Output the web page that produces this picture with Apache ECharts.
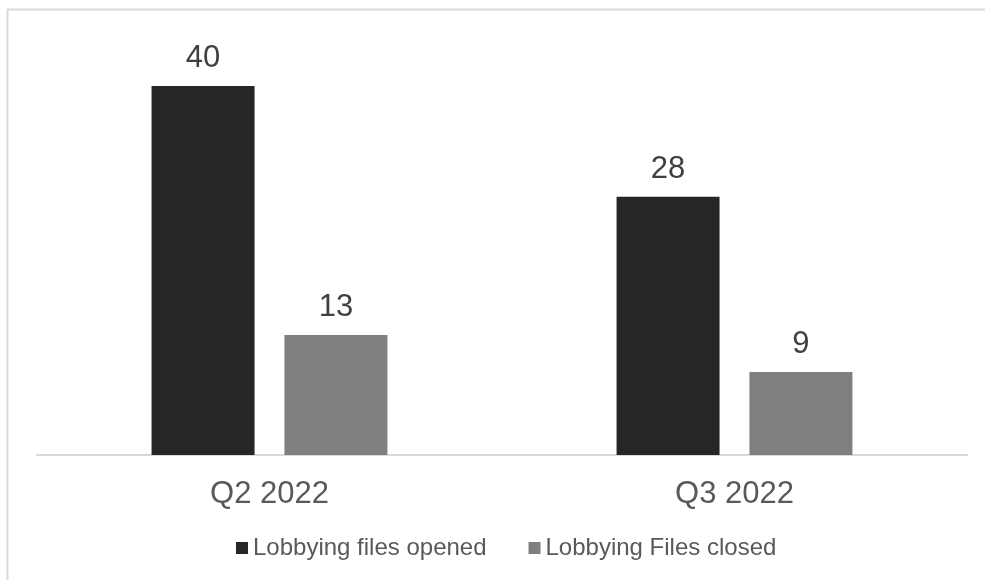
<!DOCTYPE html>
<html>
<head>
<meta charset="utf-8">
<script src="https://cdn.jsdelivr.net/npm/echarts@6/dist/echarts.min.js"></script>
<style>
  html, body { margin: 0; padding: 0; background: #fff; }
  #chart { width: 985px; height: 580px; }
</style>
</head>
<body>
<div id="chart"></div>
<script>
// Quarterly lobbying file counts
const quarters = ['Q2 2022', 'Q3 2022'];
const filesOpened = [40, 28];
const filesClosed = [13, 9];
const seriesNames = ['Lobbying files opened', 'Lobbying Files closed'];

const FONT = '"Liberation Sans", Arial, sans-serif';

const chart = echarts.init(document.getElementById('chart'), null, { renderer: 'canvas' });

const valueLabel = {
  show: true,
  position: 'top',
  distance: 12,
  fontFamily: FONT,
  fontSize: 31,
  color: '#404040'
};

chart.setOption({
  animation: false,
  backgroundColor: '#ffffff',
  textStyle: { fontFamily: FONT },
  graphic: [
    // chart frame: top and left edges
    { type: 'line', shape: { x1: 7, y1: 9.5, x2: 985, y2: 9.5 }, style: { stroke: '#d9d9d9', lineWidth: 2 }, silent: true },
    { type: 'line', shape: { x1: 7.5, y1: 9, x2: 7.5, y2: 580 }, style: { stroke: '#d9d9d9', lineWidth: 2 }, silent: true }
  ],
  legend: {
    data: seriesNames,
    top: 531,
    left: 231,
    itemWidth: 12,
    itemHeight: 12,
    itemGap: 42,
    icon: 'rect',
    textStyle: { fontFamily: FONT, fontSize: 24, color: '#595959' }
  },
  grid: { left: 37, right: 18, top: 40, bottom: 125 },
  xAxis: {
    type: 'category',
    data: quarters,
    axisLine: { lineStyle: { color: '#d9d9d9', width: 2 } },
    axisTick: { show: false },
    axisLabel: { fontFamily: FONT, fontSize: 31, color: '#595959', margin: 24 }
  },
  yAxis: {
    type: 'value',
    min: 0,
    max: 45,
    show: false,
    splitLine: { show: false }
  },
  series: [
    {
      name: seriesNames[0],
      type: 'bar',
      data: filesOpened,
      barWidth: 103,
      barGap: '29%',
      itemStyle: { color: '#262626' },
      label: valueLabel
    },
    {
      name: seriesNames[1],
      type: 'bar',
      data: filesClosed,
      barWidth: 103,
      barGap: '29%',
      itemStyle: { color: '#7f7f7f' },
      label: valueLabel
    }
  ]
});
</script>
</body>
</html>
